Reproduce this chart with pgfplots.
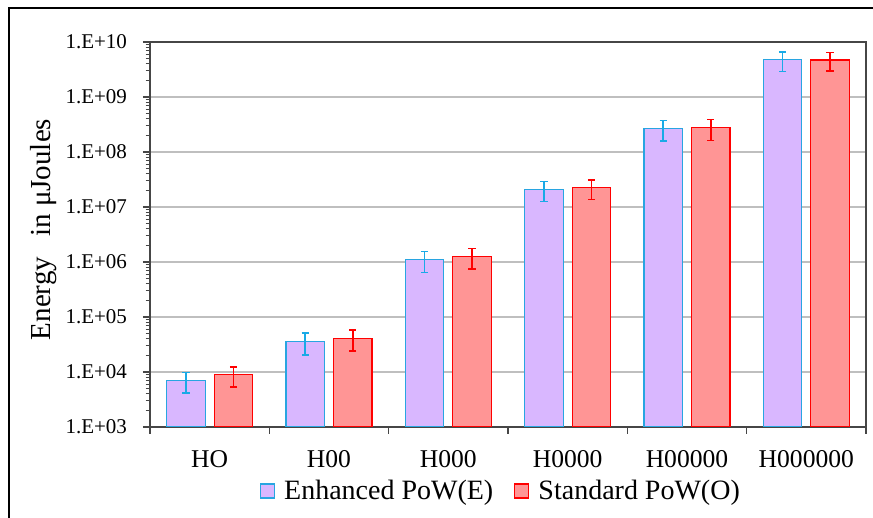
\documentclass[border=0pt]{standalone}
\usepackage{pgfplots}
\pgfplotsset{compat=1.18}
\usepackage{pgfplotstable}
\usepackage{fontspec}
\setmainfont{Liberation Serif}

\definecolor{Efill}{RGB}{217,183,255}
\definecolor{Eedge}{RGB}{40,165,225}
\definecolor{Eerr}{RGB}{25,170,230}
\definecolor{Ofill}{RGB}{255,149,149}
\definecolor{Oedge}{RGB}{255,0,0}
\definecolor{gridgray}{RGB}{191,191,191}
\definecolor{axisgray}{RGB}{70,70,70}

% energy (uJ) with error, E = enhanced, O = standard
\pgfplotstableread{
x  e        ee       o        oe
0  6950     2800     8900     3500
1  35600    15000    40800    17000
2  1.10e6   4.6e5    1.25e6   5.1e5
3  2.09e7   8.3e6    2.24e7   8.8e6
4  2.65e8   1.08e8   2.77e8   1.15e8
5  4.76e9   1.85e9   4.71e9   1.77e9
}\energy

\begin{document}
\begin{tikzpicture}
\begin{axis}[
    at={(0,0)}, anchor=south west,
    width=358pt, height=192.5pt, scale only axis,
    ymode=log, log origin=infty,
    ymin=1e3, ymax=1e10,
    xmin=-0.5, xmax=5.5,
    ybar=4.5pt, bar width=19.25pt,
    xtick={-0.5,0.5,1.5,2.5,3.5,4.5,5.5},
    xticklabels={,,,,,,},
    extra x ticks={0,1,2,3,4,5},
    extra x tick labels={HO,H00,H000,H0000,H00000,H000000},
    extra x tick style={major tick length=0pt},
    ytick={1e3,1e4,1e5,1e6,1e7,1e8,1e9,1e10},
    yticklabels={1.E+03,1.E+04,1.E+05,1.E+06,1.E+07,1.E+08,1.E+09,1.E+10},
    xtick pos=bottom, ytick pos=left,
    tick align=outside,
    major tick length=3.5pt, minor tick length=2.2pt,
    tick style={axisgray, line width=0.6pt},
    minor tick style={axisgray, line width=0.4pt},
    xticklabel style={font=\rmfamily\fontsize{12.8}{14}\selectfont, yshift=-8pt},
    yticklabel style={font=\rmfamily\fontsize{10.5}{12}\selectfont, xshift=-4.5pt},
    ymajorgrids, major grid style={gridgray, line width=0.9pt},
    axis line style={axisgray, line width=0.6pt},
    ylabel={Energy\hspace{0.7em}in μJoules},
    ylabel style={font=\rmfamily\fontsize{14.5}{16}\selectfont, at={(axis description cs:-0.148,0.513)}, anchor=center},
    legend style={at={(axis description cs:0.495,-0.166)}, anchor=center,
        draw=none, fill=none, legend columns=2,
        font=\rmfamily\fontsize{14}{16}\selectfont,
        nodes={inner xsep=4.5pt},
        /tikz/every even column/.append style={column sep=6pt}},
    legend image code/.code={\draw[#1] (0pt,-3.5pt) rectangle (7pt,3.5pt);},
]
\addplot[draw=Eedge, fill=Efill, line width=0.6pt,
    error bars/.cd, y dir=both, y explicit,
    error bar style={Eerr, line width=0.8pt},
    error mark options={rotate=90, mark size=1.8pt, Eerr, line width=0.8pt}]
    table[x=x, y=e, y error=ee] {\energy};
\addlegendentry{Enhanced PoW(E)}
\addplot[draw=Oedge, fill=Ofill, line width=0.6pt,
    error bars/.cd, y dir=both, y explicit,
    error bar style={Oedge, line width=0.8pt},
    error mark options={rotate=90, mark size=1.8pt, Oedge, line width=0.8pt}]
    table[x=x, y=o, y error=oe] {\energy};
\addlegendentry{Standard PoW(O)}
\end{axis}
\draw[line width=0.6pt] (-70.5pt,-60pt) -- (-70.5pt,209.5pt) -- (380pt,209.5pt);
\pgfresetboundingbox
\useasboundingbox (-75pt,-45.5pt) rectangle (361.5pt,213.5pt);
\end{tikzpicture}
\end{document}
